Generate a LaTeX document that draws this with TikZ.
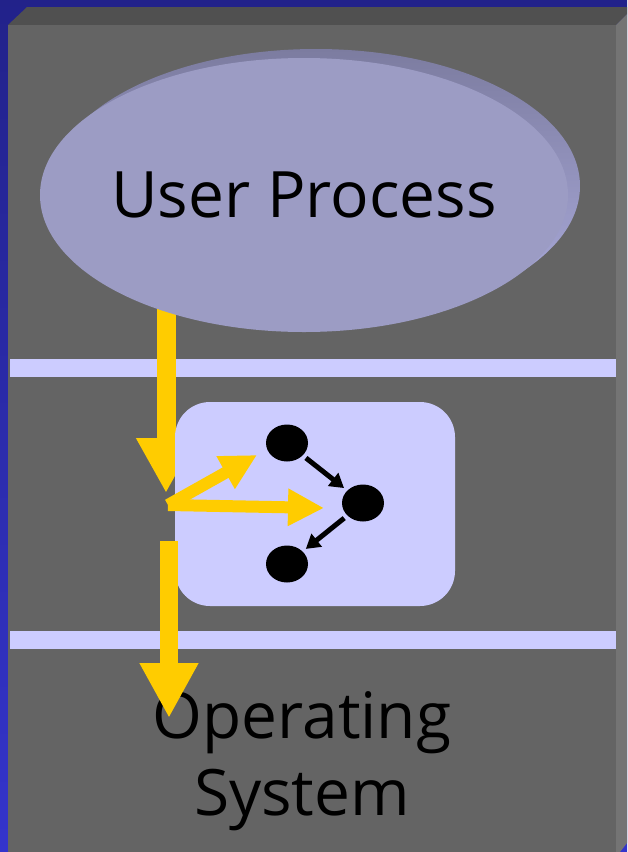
\documentclass[tikz,border=0pt]{standalone}
\usepackage{fontspec}
\setmainfont{Open Sans}
\usetikzlibrary{arrows.meta,shapes.geometric}
\definecolor{bgtop}{HTML}{22228A}
\definecolor{bgbot}{HTML}{3434CC}
\definecolor{face}{HTML}{646464}
\definecolor{topbev}{HTML}{505050}
\definecolor{sidebev}{HTML}{747474}
\definecolor{lilac}{HTML}{CCCCFF}
\definecolor{ellface}{HTML}{9C9CC4}
\definecolor{ellbackA}{HTML}{7C7CA0}
\definecolor{ellbackB}{HTML}{ADADDE}
\definecolor{gold}{HTML}{FFCC00}
\tikzset{
  bigtext/.style={font=\fontsize{64}{77}\selectfont, text=black, inner sep=0pt},
  ybig/.style={draw=gold, line width=19pt, line cap=butt, -{Triangle[width=56pt,length=55pt]}},
  ysmall/.style={draw=gold, line width=12pt, line cap=butt, -{Triangle[width=35pt,length=36pt]}},
  blk/.style={draw=black, line width=5pt, -{Triangle[width=16pt,length=14pt]}, shorten <=4pt, shorten >=4pt},
  dot/.style={ellipse, fill=black, minimum width=42pt, minimum height=37pt, inner sep=0pt},
}
\begin{document}
\begin{tikzpicture}[x=1pt,y=-1pt]
\useasboundingbox (0,0) rectangle (627,852);
% background and 3D panel
\shade[top color=bgtop, bottom color=bgbot] (0,0) rectangle (627,852);
\fill[topbev] (8,25) -- (27,7) -- (627,7) -- (627,14) -- (616,25) -- cycle;
\fill[sidebev] (616,25) -- (627,14) -- (627,843) -- (620,852) -- (616,852) -- cycle;
\fill[face] (8,25) rectangle (616,852);
% stripes
\fill[lilac] (10,359) rectangle (616,377);
\fill[lilac] (10,631) rectangle (616,649);
% first yellow arrow (behind ellipse)
\coordinate (a0) at (166,300);
\coordinate (j) at (166,493);
\draw[ybig] (a0) -- (j);
% user process ellipse with depth
\shade[left color=ellbackA, right color=ellbackB, shading angle=0] (316,186) ellipse [x radius=264, y radius=137];
\node[ellipse, fill=ellface, minimum width=528pt, minimum height=274pt, inner sep=0pt] (up) at (304,195) {};
\node[bigtext] (uptext) at (up.center) {User Process};
% inner box
\node[rectangle, rounded corners=35pt, fill=lilac, minimum width=280pt, minimum height=204pt] (box) at (315,504) {};
% dots
\node[dot] (d1) at (287,443) {};
\node[dot] (d2) at (363,503) {};
\node[dot] (d3) at (287,564) {};
\draw[blk] (d1) -- (d2);
\draw[blk] (d2) -- (d3);
% branching yellow arrows
\coordinate (j2) at (168,505);
\coordinate (t1) at (257,455);
\coordinate (t2) at (324,508);
\draw[ysmall] (j2) -- (t1);
\draw[ysmall] (j2) -- (t2);
% operating system text
\node[bigtext, anchor=base] (os1) at (302,738) {Operating};
\node[bigtext, anchor=base] (os2) at (302,815) {System};
% lower yellow arrow
\coordinate (b0) at (169,541);
\coordinate (b1) at (169,718);
\draw[draw=gold, line width=18pt, line cap=butt, -{Triangle[width=55pt,length=55pt]}] (b0) -- (b1);
\end{tikzpicture}
\end{document}
